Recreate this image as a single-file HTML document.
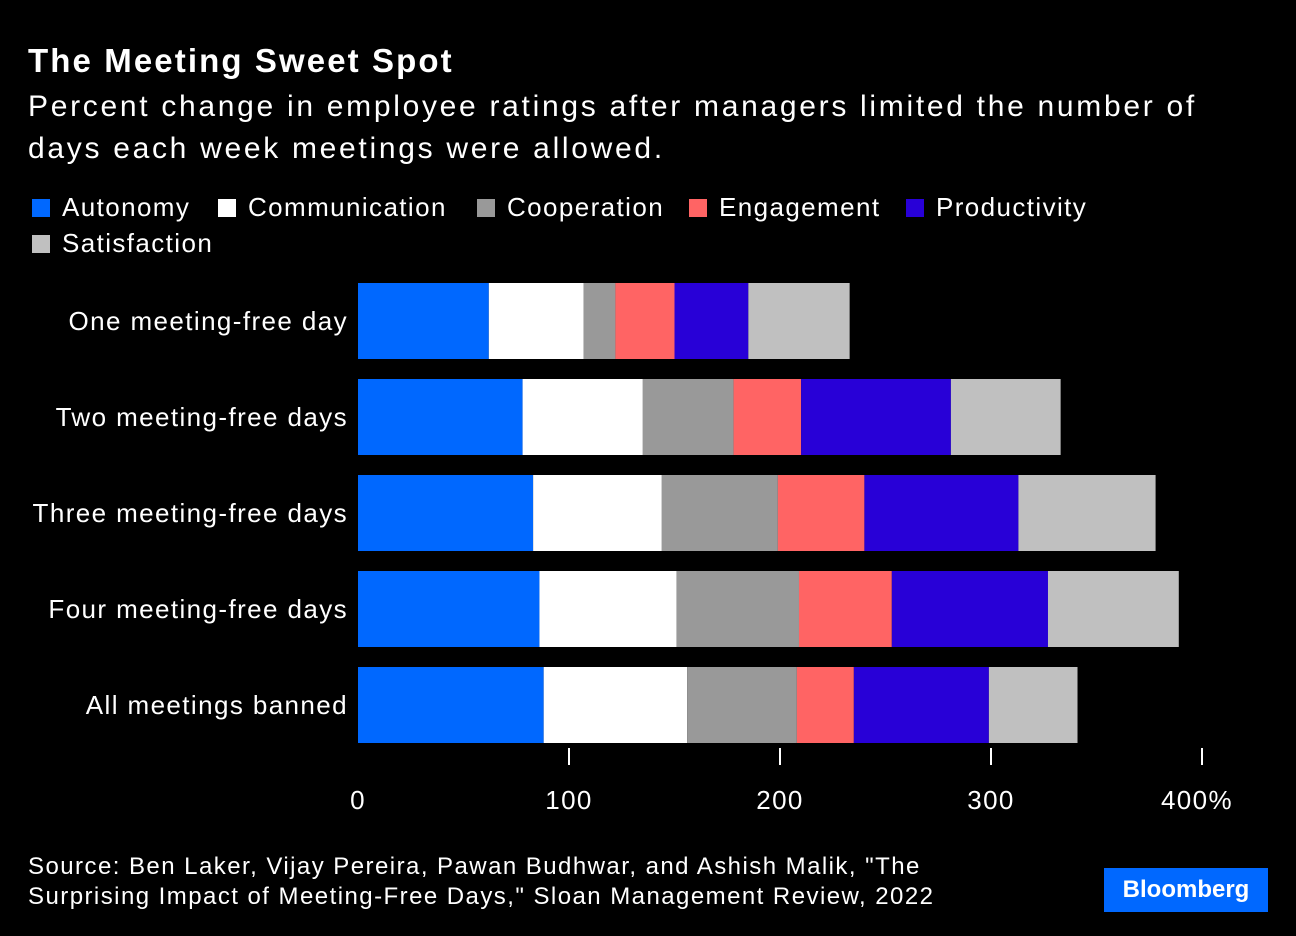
<!DOCTYPE html>
<html><head><meta charset="utf-8"><style>
body{margin:0;background:#000;width:1296px;height:936px;overflow:hidden;font-family:"Liberation Sans",sans-serif;color:#fff}
.t{position:absolute;left:28px;top:42px;font-size:33px;font-weight:bold;letter-spacing:2.1px}
.s{position:absolute;left:28px;top:86px;font-size:30px;line-height:42px;width:1260px;letter-spacing:2.7px;white-space:nowrap}
.lg{position:absolute;font-size:26px;display:flex;align-items:center;letter-spacing:1.4px;white-space:nowrap}
.lg i{display:inline-block;width:18px;height:18px;margin-right:12px}
.src{position:absolute;left:28px;top:852px;font-size:24px;line-height:30px;letter-spacing:1.45px;white-space:nowrap}
.bb{position:absolute;left:1104px;top:868px;width:164px;height:44px;background:#0068ff;font-size:24px;font-weight:bold;text-align:center;line-height:44px}
svg text{letter-spacing:1.4px}
</style></head><body>
<div class="t">The Meeting Sweet Spot</div>
<div class="s">Percent change in employee ratings after managers limited the number of<br>days each week meetings were allowed.</div>
<div id="legend"></div>
<svg id="c" width="1296" height="936" style="position:absolute;left:0;top:0"></svg>
<div class="src">Source: Ben Laker, Vijay Pereira, Pawan Budhwar, and Ashish Malik, "The<br>Surprising Impact of Meeting-Free Days," Sloan Management Review, 2022</div>
<div class="bb">Bloomberg</div>
<script>
const categories=["One meeting-free day","Two meeting-free days","Three meeting-free days","Four meeting-free days","All meetings banned"];
const seriesNames=["Autonomy","Communication","Cooperation","Engagement","Productivity","Satisfaction"];
const autonomy=[62,78,83,86,88];
const communication=[45,57,61,65,68];
const cooperation=[15,43,55,58,52];
const engagement=[28,32,41,44,27];
const productivity=[35,71,73,74,64];
const satisfaction=[48,52,65,62,42];
const ticks=[0,100,200,300,400];
const tickLabels=["0","100","200","300","400%"];
const series=[autonomy,communication,cooperation,engagement,productivity,satisfaction];
const colors=["#0068ff","#ffffff","#999999","#ff6464","#2800d7","#c0c0c0"];
const NS="http://www.w3.org/2000/svg",svg=document.getElementById('c');
const x=v=>358+v*2.11, y=i=>283+i*96, bh=76;
function el(t,a){const e=document.createElementNS(NS,t);for(const k in a)e.setAttribute(k,a[k]);svg.appendChild(e);return e;}
categories.forEach((c,i)=>{
 let acc=0;
 series.forEach((s,j)=>{
  const r=el('rect',{x:x(acc),y:y(i),width:s[i]*2.11,height:bh,fill:colors[j]});
  
  
  acc+=s[i];
 });
 const t=el('text',{x:348,y:y(i)+bh/2+9,'text-anchor':'end',fill:'#fff','font-size':26});
 t.textContent=c;
 
 
});
ticks.forEach((v,i)=>{
 if(v>0){const l=el('line',{x1:x(v),x2:x(v),y1:748,y2:765,stroke:'#fff','stroke-width':2});
 
 }
 const t=el('text',{x:x(v)+(i==ticks.length-1?-5:0),y:809,'text-anchor':'middle',fill:'#fff','font-size':26});
 t.textContent=tickLabels[i];
 
 
});
const lg=document.getElementById('legend');
const pos=[[32,192],[218,192],[477,192],[689,192],[906,192],[32,228]];
seriesNames.forEach((n,j)=>{
 const d=document.createElement('div');d.className='lg';
 d.style.left=pos[j][0]+'px';d.style.top=pos[j][1]+'px';
 d.innerHTML='<i style="background:'+colors[j]+'"></i>'+n;
 
 
 lg.appendChild(d);
});
</script>
</body></html>
